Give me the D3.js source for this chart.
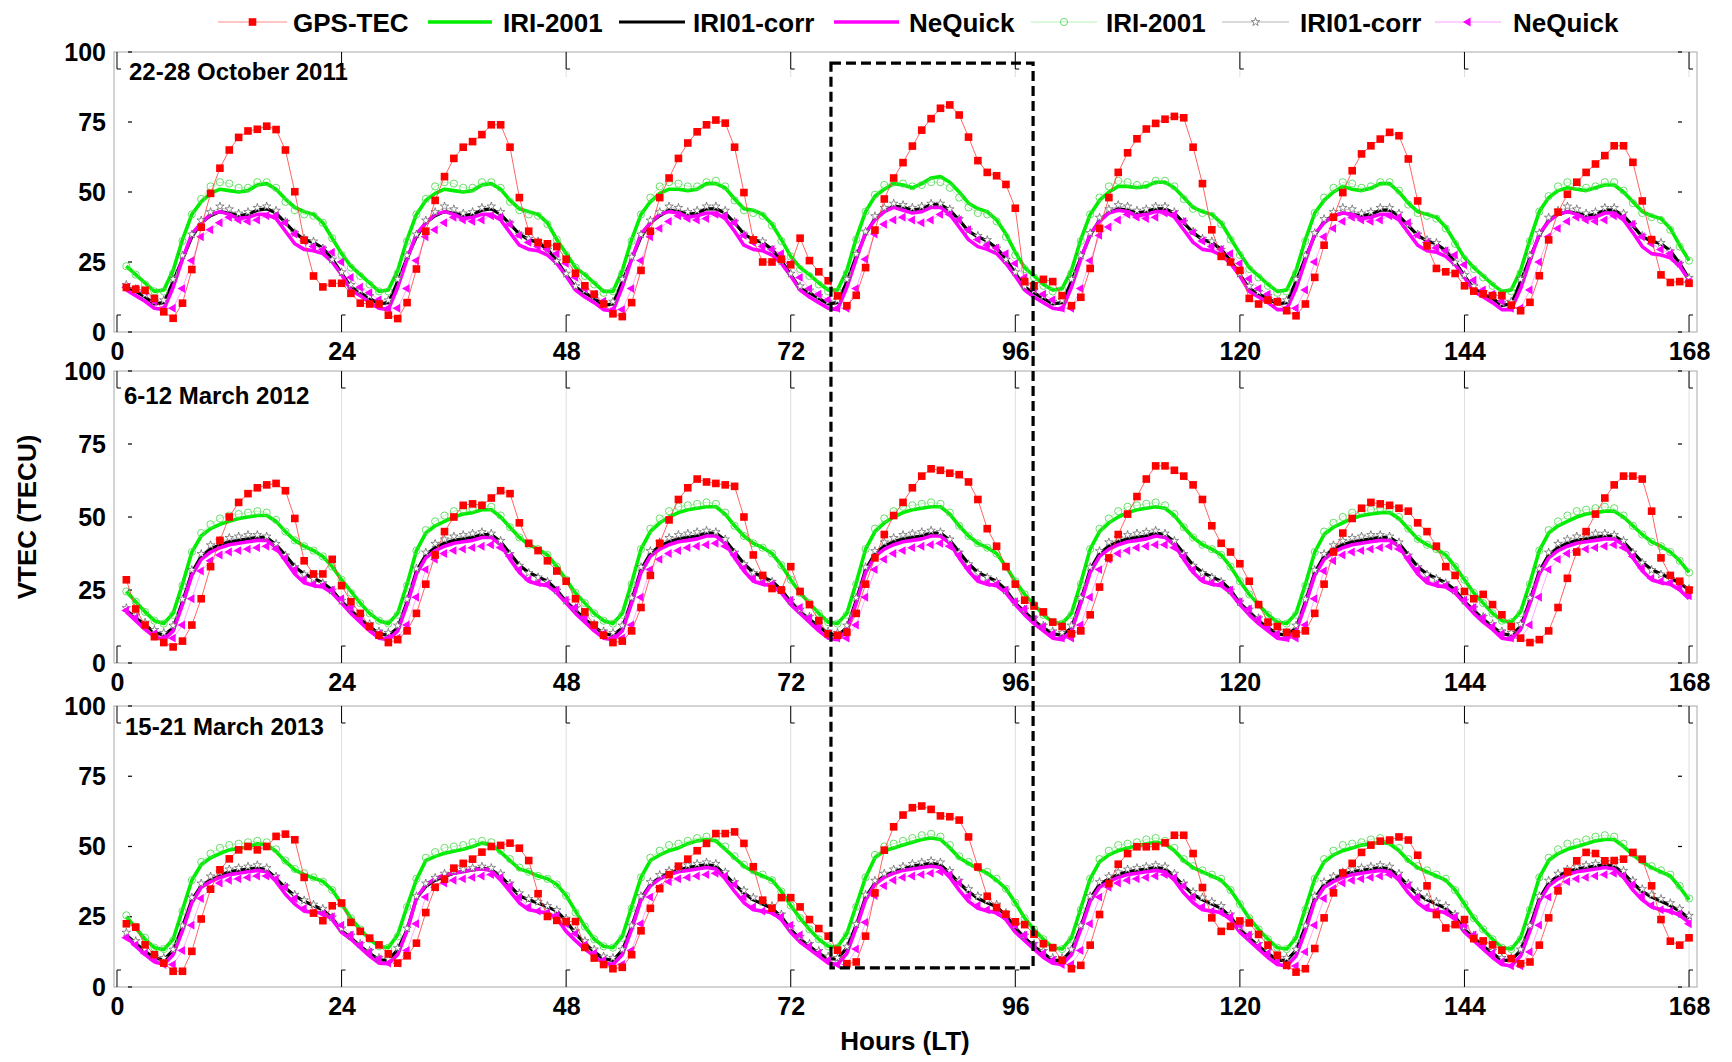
<!DOCTYPE html>
<html>
<head>
<meta charset="utf-8">
<script src="https://cdn.jsdelivr.net/npm/d3@7"></script>
<style>
  body { margin: 0; background: #fff; }
  text { font-family: "Liberation Sans", Arial, sans-serif; font-weight: bold; fill: #000; }
</style>
</head>
<body>
<script>
// hourly samples, 7 days
const hours = d3.range(1, 169);
const xTicks = [0, 24, 48, 72, 96, 120, 144, 168];
const yTicks = [0, 25, 50, 75, 100];
const titles = ["22-28 October 2011", "6-12 March 2012", "15-21 March 2013"];
const legendNames = ["GPS-TEC", "IRI-2001", "IRI01-corr", "NeQuick", "IRI-2001", "IRI01-corr", "NeQuick"];

// ---------- panel 1 : 22-28 October 2011 ----------
const gps1 = [
  [15.9, 15.3, 14.9, 12, 7.2, 4.9, 10.3, 22.3, 37.4, 49.5, 58.5, 65, 69.5, 71.8, 72.4, 73.5, 72.3, 65, 50.1, 32.8, 20, 16.1, 17.4, 17.4],
  [13.8, 10.3, 10, 10, 6, 4.8, 10.5, 22.5, 36, 47, 55.5, 62, 66, 68, 70.5, 74, 74, 66, 48, 36, 32, 31.5, 30.5, 26],
  [21, 16.5, 13.5, 10, 6.5, 5.5, 10.5, 22, 36, 48, 55, 62, 67.5, 71.5, 74, 75.7, 74.6, 66, 49.8, 32.9, 25, 25, 26, 24],
  [33.5, 25.5, 21.5, 18.3, 12.9, 9.4, 13.1, 23, 36.4, 47.5, 55, 60.5, 66.4, 72.1, 76.2, 79.9, 81.1, 77.5, 69.6, 61.2, 57, 55.8, 52.7, 44.2],
  [18, 16.5, 18.8, 18, 13, 9.4, 12.4, 22.7, 37, 48, 57, 64, 69, 72.5, 74.5, 76, 77, 76.5, 66, 53, 36.5, 27, 25, 22],
  [12, 10, 11.4, 10.8, 7.6, 5.8, 10, 19.5, 31, 41, 49.8, 57.6, 63.6, 66.5, 68.9, 71.3, 70.1, 61.8, 46.8, 30.8, 22.7, 21.5, 20.9, 16.5],
  [14.6, 13.6, 13, 13, 9.6, 7.6, 10.6, 20.1, 32.9, 42.8, 49.2, 53.5, 57, 60, 63, 66.5, 66.5, 60.6, 46.8, 33, 20.4, 17.7, 18, 17.4]
].flat();
const iri1 = [
  [23.5, 20.5, 17.5, 14.5, 15, 22, 33, 42, 46.5, 49.5, 51, 50.5, 50, 50.5, 52.5, 53, 51, 47.5, 44.5, 43, 42, 39, 33.5, 28],
  [23.5, 20.5, 17.5, 14.5, 15, 22, 33, 42, 47, 49.5, 51, 50.5, 50, 50.5, 52.5, 53, 51, 47, 44, 43, 42, 39, 33, 28],
  [23, 20.5, 17.5, 14.5, 14.5, 22, 33, 42, 46.5, 49.5, 51, 51, 50.5, 51, 53, 53, 51.5, 47.5, 44, 43.5, 42, 38.5, 33, 27],
  [23, 20.5, 17.5, 15, 15, 22, 33.5, 43, 48.5, 51, 53, 52.5, 51.5, 53, 55, 55.5, 53.5, 50, 46, 44, 43, 40, 35, 28.5],
  [23, 20, 17, 15, 15.5, 22, 33, 42, 47, 50, 52, 52, 51.5, 52, 53.5, 53.5, 51.5, 48, 44.5, 43, 42, 39, 33.5, 28],
  [23, 20, 17, 14.5, 15, 22, 33, 42.5, 47, 50, 52, 51, 50.5, 51.3, 53, 53, 50, 46, 43, 42, 41, 37.5, 32, 26.5],
  [23, 20, 17, 14.5, 15, 22, 33, 43, 48, 50.5, 51.5, 51, 50.5, 51.5, 52.5, 52.5, 50, 46.5, 43, 41.5, 40.5, 37, 31, 25.5]
].flat();
const corr1 = [
  [16, 14.5, 12.5, 10, 10.5, 18, 26, 34, 39, 41.5, 43, 42.5, 41.5, 42, 43.5, 44, 42.5, 39, 35.5, 33, 32, 30, 26, 21],
  [16, 14, 12, 10, 10.5, 18, 26.5, 34, 39, 41.5, 43, 42.5, 41.5, 42, 43.5, 44, 42, 38.5, 35, 33, 32, 29.5, 25.5, 20.5],
  [16, 14, 12, 9.5, 10, 18, 26, 34, 39, 41.5, 43.5, 43, 42, 42.5, 44, 44, 42.5, 39, 35, 33, 32, 29.5, 25.5, 20.5],
  [15.5, 14, 12, 10, 10.5, 18, 27, 35, 40.5, 43, 45, 44.5, 43.5, 44, 45.5, 45.5, 43.5, 40, 36, 34, 32.5, 30, 26, 21],
  [16, 14, 12, 10, 10.5, 18, 26.5, 34.5, 40, 42.5, 44, 43.5, 42.5, 43, 44, 44, 42.5, 39, 35.5, 33, 32, 29.5, 25.5, 20.5],
  [15.5, 13.5, 12, 10, 10.5, 18, 26.5, 34.5, 39.5, 41.5, 42.5, 42, 41.5, 42, 43.5, 43.5, 41.5, 38, 34.5, 32.5, 31.5, 29, 25, 20],
  [15.5, 13.5, 12, 9.5, 10, 18, 26.5, 34.5, 40, 42, 43, 42.5, 41.5, 42, 43.5, 43.5, 41.5, 38, 34, 32.5, 31.5, 29, 24.5, 19]
].flat();
const neq1 = [
  [15, 13, 11, 8.5, 8, 16, 26, 35, 39, 42, 43, 42, 40.5, 41, 42, 42, 40.5, 36, 31.5, 29.5, 29, 28, 25, 20.5],
  [15, 13, 10.5, 8.5, 8, 16, 26, 35, 39, 42, 43, 42, 40.5, 41, 42, 42, 40, 35.5, 31, 29.5, 29, 27.5, 24.5, 20],
  [15, 12.5, 10.5, 8, 7.5, 16, 26, 35, 39, 42, 43, 42.5, 41, 41.5, 42.5, 42.5, 40.5, 36, 31, 29.5, 29, 27.5, 24.5, 20],
  [15, 12.5, 10.5, 8.5, 8, 16, 26, 35.5, 40, 43, 44.5, 43.5, 42.5, 43, 44.5, 44.5, 42, 37.5, 33, 30.5, 29.5, 28, 24.5, 20],
  [15, 12.5, 10.5, 8.5, 8, 16, 26, 35, 39.5, 42.5, 43.5, 43, 41.5, 42, 43, 43, 41, 36.5, 32, 29.5, 29, 27.5, 24.5, 20],
  [14.5, 12.5, 10.5, 8, 8, 15.5, 25.5, 35, 39, 41.5, 42.5, 42, 40.5, 41, 42, 42, 40, 35.5, 31, 29, 28.5, 27, 24, 19.5],
  [14.5, 12.5, 10.5, 8, 8, 15.5, 25.5, 35, 39.5, 42, 43, 42, 40.5, 41, 42.5, 42.5, 40, 35.5, 30.5, 28, 27.5, 26.5, 23.5, 18.5]
].flat();
const iriM1 = [
  [23.5, 20.5, 17, 14.5, 14.5, 21, 32.5, 42, 47.5, 52, 53.5, 53, 51.5, 51.5, 53.5, 53.5, 51.5, 46.5, 43.5, 42, 41.5, 39, 33.5, 27.5],
  [23, 20, 17, 14.5, 14.5, 21, 32.5, 42, 47.5, 52, 53.5, 53, 51.5, 51.5, 53.5, 53.5, 51.5, 46.5, 43.5, 42, 41.5, 38.5, 33, 27.5],
  [23, 20, 17, 14, 14.5, 21, 32.5, 42, 48, 52, 53.5, 53, 52, 52, 53.5, 54, 52, 47, 43.5, 42.5, 41.5, 38, 32.5, 27],
  [22.5, 20, 17, 14.5, 14.5, 21, 33, 43, 49, 52.5, 53.5, 53, 52, 52.5, 53.5, 53.5, 51.5, 48, 44.5, 42.5, 42, 39.5, 34, 27.5],
  [22.5, 19.5, 16.5, 14.5, 15, 21, 32.5, 42, 48, 52, 54, 53.5, 52.5, 52.5, 54, 54, 52, 47.5, 44, 42.5, 41.5, 38.5, 33, 27.5],
  [22.5, 19.5, 16.5, 14, 14.5, 21, 32.5, 42.5, 48, 51.5, 53.5, 53, 51.5, 52, 53.5, 53.5, 50.5, 45.5, 42.5, 41.5, 40.5, 37, 31.5, 26],
  [22.5, 19.5, 16.5, 14, 14.5, 21, 32.5, 43, 48.5, 52, 53.5, 52.5, 51.5, 52, 53.5, 53.5, 50.5, 46, 42.5, 41, 40, 36.5, 30.5, 25.5]
].flat();
const corrM1 = [
  [16.5, 15, 13, 10.5, 11, 18.5, 27, 34.5, 39.5, 42.5, 44.5, 43.5, 42, 42.5, 44, 44.5, 43, 39, 35, 33, 32, 29.5, 25.5, 21],
  [16.5, 14.5, 12.5, 10.5, 11, 18.5, 27, 34.5, 39.5, 42.5, 44.5, 43.5, 42, 42.5, 44, 44.5, 42.5, 38.5, 34.5, 33, 32, 29, 25, 20.5],
  [16, 14.5, 12.5, 10, 10.5, 18.5, 26.5, 34.5, 39.5, 42.5, 44.5, 44, 42.5, 43, 44.5, 44.5, 43, 39, 34.5, 33, 32, 29, 25, 20.5],
  [16, 14.5, 12.5, 10.5, 11, 18.5, 27.5, 35.5, 41, 44, 45.5, 45, 44, 44.5, 45.5, 45.5, 43.5, 40, 36, 34, 32.5, 29.5, 25.5, 21],
  [16, 14.5, 12.5, 10.5, 11, 18.5, 27, 35, 40.5, 43.5, 45, 44.5, 43, 43.5, 44.5, 44.5, 42.5, 39, 35.5, 33, 32, 29, 25, 20.5],
  [16, 14, 12.5, 10.5, 11, 18.5, 27, 35, 40, 42.5, 44, 43.5, 42, 42.5, 44, 44, 42, 38, 34.5, 32.5, 31.5, 28.5, 24.5, 20],
  [16, 14, 12.5, 10, 10.5, 18.5, 27, 35, 40.5, 43, 44.5, 43.5, 42, 42.5, 44, 44, 42, 38, 34, 32.5, 31.5, 28.5, 24, 19]
].flat();
const neqM1 = [
  [16, 15.5, 14.5, 11, 8.5, 8.5, 15.5, 25.5, 34, 36.5, 39, 41, 40, 39.5, 40, 41.5, 41.5, 39, 35, 32.5, 30.5, 29.5, 28.5, 25],
  [19.5, 16, 14, 11.5, 8.5, 8.5, 15.5, 25.5, 34, 36.5, 39, 41, 40, 39.5, 40, 41.5, 41, 38.5, 34.5, 32, 30.5, 29.5, 28, 24.5],
  [19.5, 15.5, 13.5, 11, 8, 8, 15.5, 25.5, 34, 37, 39.5, 41.5, 40.5, 40, 40.5, 42, 41.5, 39, 34.5, 32, 30.5, 29.5, 28, 24.5],
  [19.5, 15.5, 13.5, 11.5, 8.5, 8.5, 15.5, 26, 35, 38.5, 40, 41, 40, 39, 40, 42, 42, 40, 36.5, 33, 31, 30, 28, 24.5],
  [19.5, 15.5, 13.5, 11.5, 8.5, 8.5, 15.5, 25.5, 34.5, 37.5, 40, 42, 41, 40.5, 41, 42.5, 42, 39.5, 35.5, 32.5, 30.5, 29.5, 28, 24.5],
  [19, 15.5, 13.5, 11, 8.5, 8.5, 15, 25, 34, 37, 39.5, 41, 40, 39.5, 40, 41.5, 41, 39, 34.5, 32, 30, 29, 27.5, 24],
  [18.5, 15, 13.5, 11, 8.5, 8.5, 15, 25, 34, 37, 39.5, 41, 40, 39.5, 40, 41.5, 41, 38.5, 34, 31.5, 29.5, 28, 24, 18]
].flat();

// ---------- panel 2 : 6-12 March 2012 ----------
const gps2 = [
  [28.5, 18.5, 13, 9, 7, 5.5, 7.5, 13, 22, 33, 42, 50, 55, 58, 60, 61, 61.5, 59, 49.5, 35, 30.5, 30.5, 35.5, 26.5],
  [21, 17, 12.5, 9.5, 7, 8, 11, 17, 27, 37, 45, 50, 54, 54.5, 54, 56.5, 59, 58, 48, 41, 38.5, 35, 31.5, 28],
  [22, 17.5, 13, 9.5, 7, 7.5, 11, 19, 30, 41, 49, 56, 60, 63, 62, 61.5, 61, 60.5, 50, 37, 30, 25.5, 25, 33],
  [24.5, 20, 14.5, 10, 9.5, 10.5, 17, 27, 36, 44, 50.5, 55, 60, 64, 66.5, 66, 65, 64.5, 62, 56, 46, 40, 33, 27],
  [21.5, 19.5, 17.5, 14, 12.5, 10, 11, 16.5, 26, 36, 44, 51, 57, 63, 67.5, 67.5, 66, 64, 61, 56, 47, 41, 38, 34],
  [28, 20, 14, 12.5, 10.5, 10, 11, 17, 27, 38, 44.5, 49.5, 53, 55, 54.5, 54, 53, 52, 48, 45, 40, 33, 30, 24.5],
  [22, 23.5, 20, 16.5, 12.5, 8.5, 7, 8, 11, 19, 29, 38, 45, 51, 56.5, 61, 64, 64, 63, 52, 36, 30, 28, 25]
].flat();
const iri2 = [
  [24.5, 21, 17.5, 14.5, 13.5, 17, 27, 38, 43.5, 46, 47.5, 48.5, 49.5, 50, 50.5, 50.5, 48.5, 45, 42, 40, 38.5, 36.5, 33, 28.5],
  [24.5, 20.5, 17, 14.5, 13.5, 17, 27, 38.5, 44.5, 47, 48.5, 50, 51, 51.5, 52.5, 52.5, 50, 46.5, 43, 40.5, 39, 37, 33, 28.5],
  [24, 20.5, 17, 14.5, 13.5, 17, 27.5, 39, 45, 48, 50, 51.5, 52.5, 53, 53.5, 53.5, 51, 47, 43.5, 41, 39.5, 37.5, 33.5, 28.5],
  [24, 20.5, 17, 14, 13.5, 17, 27.5, 39, 45, 48, 50, 51.5, 52.5, 53, 53.5, 53.5, 51, 47, 43.5, 41, 39.5, 37.5, 33, 28],
  [23.5, 20, 16.5, 14, 13.5, 17, 27.5, 39, 45, 48, 50, 51.5, 52.5, 53, 53.5, 53, 50.5, 46.5, 43, 40.5, 39, 37, 33, 28],
  [23.5, 20, 16.5, 14, 13.5, 17, 27, 38, 44, 46.5, 48, 49.5, 50.5, 51, 51.5, 51.5, 49.5, 46, 42.5, 40.5, 39, 37, 33, 28.5],
  [24, 20.5, 17, 14.5, 14, 17.5, 27.5, 38.5, 44.5, 47, 48.5, 50, 51, 51.5, 52, 52, 50, 47, 44, 41.5, 40, 38, 35, 31]
].flat();
const corr2 = [
  [18, 15.5, 13, 10.5, 9.5, 12, 21, 31, 36.5, 39, 40.5, 41.5, 42, 42.5, 43, 43, 40.5, 37, 33, 30.5, 29, 27.5, 25, 21],
  [18, 15, 12.5, 10, 9.5, 12, 21, 31.5, 37, 39.5, 41, 42, 42.5, 43, 44, 44, 41.5, 37.5, 33.5, 31, 29.5, 28, 25, 21],
  [18, 15, 12.5, 10, 9.5, 12, 21.5, 32, 37.5, 40, 41.5, 42.5, 43, 43.5, 44.5, 44.5, 42, 38, 34, 31, 29.5, 28, 25, 21],
  [17.5, 15, 12.5, 10, 9.5, 12, 21.5, 32, 37.5, 40, 41.5, 42.5, 43, 43.5, 44.5, 44.5, 42, 38, 34, 31, 29.5, 28, 25, 20.5],
  [17.5, 14.5, 12, 10, 9.5, 12, 21.5, 32, 37.5, 40, 41.5, 42.5, 43, 43.5, 44.5, 44, 41.5, 37.5, 33.5, 31, 29.5, 28, 25, 20.5],
  [17.5, 14.5, 12, 10, 9.5, 12, 21, 31, 36.5, 39, 40.5, 41.5, 42, 42.5, 43, 43, 41, 37, 33, 30.5, 29, 27.5, 25, 21],
  [18, 15, 12.5, 10, 9.5, 12.5, 21.5, 31.5, 37, 39.5, 41, 42, 42.5, 43, 43.5, 43.5, 41.5, 38, 34.5, 32, 30.5, 29, 27.5, 25]
].flat();
const neq2 = [
  [17.5, 14.5, 11.5, 9, 8, 11, 20, 30, 35.5, 38, 39.5, 40.5, 41, 41.5, 42, 42, 39.5, 35, 30.5, 27.5, 26.5, 26, 24, 20.5],
  [17, 14, 11, 8.5, 8, 11, 20, 30.5, 36, 38.5, 40, 41, 41.5, 42, 43, 43, 40.5, 35.5, 31, 28, 27, 26.5, 24, 20.5],
  [17, 14, 11, 8.5, 8, 11, 20.5, 31, 36.5, 39, 40.5, 41.5, 42, 42.5, 43.5, 43.5, 41, 36, 31.5, 28, 27, 26.5, 24, 20],
  [17, 14, 11, 8.5, 8, 11, 20.5, 31, 36.5, 39, 40.5, 41.5, 42, 42.5, 43.5, 43.5, 41, 36, 31.5, 28, 27, 26.5, 24, 20],
  [16.5, 13.5, 11, 8.5, 8, 11, 20.5, 31, 36.5, 39, 40.5, 41.5, 42, 42.5, 43.5, 43, 40.5, 35.5, 31, 28, 27, 26.5, 24, 20],
  [16.5, 13.5, 11, 8.5, 8, 11, 20, 30, 35.5, 38, 39.5, 40.5, 41, 41.5, 42, 42, 40, 35, 30.5, 27.5, 26.5, 26, 24, 20.5],
  [17, 14, 11.5, 8.5, 8, 11.5, 20.5, 30.5, 36, 38.5, 40, 41, 41.5, 42, 42.5, 42.5, 40.5, 36, 31.5, 28.5, 27.5, 27, 25, 22]
].flat();
const iriM2 = [
  [24.5, 21, 17.5, 14.5, 13.5, 16.5, 26.5, 38, 44.5, 47.5, 49.5, 50.5, 51, 51.5, 52, 51.5, 49, 45, 42, 40, 38.5, 36.5, 33, 28.5],
  [24, 20.5, 17, 14.5, 13.5, 16.5, 26.5, 38.5, 45.5, 48.5, 50.5, 52, 52.5, 53, 54, 53.5, 50.5, 46.5, 43, 40.5, 39, 37, 33, 28.5],
  [24, 20.5, 17, 14.5, 13.5, 16.5, 27, 39, 46, 49.5, 52, 53.5, 54, 54.5, 55, 54.5, 51.5, 47, 43.5, 41, 39.5, 37.5, 33.5, 28.5],
  [24, 20.5, 17, 14, 13.5, 16.5, 27, 39, 46, 49.5, 52, 53.5, 54, 54.5, 55, 54.5, 51.5, 47, 43.5, 41, 39.5, 37.5, 33, 28],
  [23.5, 20, 16.5, 14, 13.5, 16.5, 27, 39, 46, 49.5, 52, 53.5, 54, 54.5, 55, 54, 51, 46.5, 43, 40.5, 39, 37, 33, 28],
  [23.5, 20, 16.5, 14, 13.5, 16.5, 26.5, 38, 45, 48, 50, 51.5, 52, 52.5, 53, 52.5, 50, 46, 42.5, 40.5, 39, 37, 33, 28.5],
  [24, 20.5, 17, 14.5, 14, 17, 27, 38.5, 45.5, 48.5, 50.5, 52, 52.5, 53, 53.5, 53, 50.5, 47, 44, 41.5, 40, 38, 35, 31]
].flat();
const corrM2 = [
  [18.5, 16, 13.5, 11, 10, 12.5, 21.5, 31.5, 37, 40, 41.5, 42.5, 43, 43.5, 43.5, 43, 40.5, 36.5, 32.5, 30, 28.5, 27, 24.5, 21],
  [18.5, 15.5, 13, 10.5, 10, 12.5, 21.5, 32, 37.5, 40.5, 42, 43, 43.5, 44, 44.5, 44, 41.5, 37, 33, 30.5, 29, 27.5, 24.5, 21],
  [18.5, 15.5, 13, 10.5, 10, 12.5, 22, 32.5, 38, 41, 42.5, 43.5, 44, 44.5, 45, 44.5, 42, 37.5, 33.5, 30.5, 29, 27.5, 24.5, 21],
  [18, 15.5, 13, 10.5, 10, 12.5, 22, 32.5, 38, 41, 42.5, 43.5, 44, 44.5, 45, 44.5, 42, 37.5, 33.5, 30.5, 29, 27.5, 24.5, 20.5],
  [18, 15, 12.5, 10.5, 10, 12.5, 22, 32.5, 38, 41, 42.5, 43.5, 44, 44.5, 45, 44, 41.5, 37, 33, 30.5, 29, 27.5, 24.5, 20.5],
  [18, 15, 12.5, 10.5, 10, 12.5, 21.5, 31.5, 37, 40, 41.5, 42.5, 43, 43.5, 43.5, 43, 41, 36.5, 32.5, 30, 28.5, 27, 24.5, 21],
  [18.5, 15.5, 13, 10.5, 10, 13, 22, 32, 37.5, 40.5, 42, 43, 43.5, 44, 44, 43.5, 41.5, 37.5, 34, 31.5, 30, 28.5, 27, 25]
].flat();
const neqM2 = [
  [18, 15.5, 12.5, 10, 8.5, 8.5, 13, 22, 31.5, 35, 37, 38, 38.5, 39, 39.5, 40, 39, 36, 32, 28.5, 27, 26.5, 25, 22],
  [19, 15.5, 12.5, 10, 8.5, 8.5, 13, 22.5, 32, 35.5, 37.5, 38.5, 39, 39.5, 40, 40.5, 39.5, 36.5, 32, 28.5, 27.5, 27, 25, 21.5],
  [19, 15.5, 12.5, 10, 8.5, 8.5, 13, 22.5, 32, 35.5, 37.5, 38.5, 39.5, 40, 40.5, 41, 40, 37, 32.5, 29, 27.5, 27, 25, 21.5],
  [19, 15.5, 12.5, 10, 8.5, 8.5, 13, 22.5, 32, 35.5, 37.5, 38.5, 39.5, 40, 40.5, 41, 40, 37, 32.5, 29, 27.5, 27, 25, 21],
  [18.5, 15, 12.5, 10, 8.5, 8.5, 13, 22.5, 32, 35.5, 37.5, 38.5, 39.5, 40, 40.5, 40.5, 39.5, 36.5, 32, 28.5, 27.5, 27, 25, 21],
  [18.5, 15, 12.5, 10, 8.5, 8.5, 13, 22, 31.5, 35, 37, 38, 38.5, 39, 39.5, 40, 39, 36, 32, 28.5, 27, 26.5, 25, 21.5],
  [19, 15.5, 12.5, 10, 8.5, 8.5, 13, 22.5, 32, 35.5, 37.5, 38.5, 39, 39.5, 40, 40.5, 39.5, 36.5, 32.5, 29, 28, 27.5, 26, 23]
].flat();

// ---------- panel 3 : 15-21 March 2013 ----------
const gps3 = [
  [22.5, 21.3, 15, 11.5, 8.5, 5.6, 5.6, 12.7, 24.2, 34.8, 41.7, 45.6, 48.8, 50, 48.8, 50, 53.6, 54.4, 52.4, 39, 26.3, 23.6, 28.9, 29.9],
  [23, 19.8, 17.4, 15, 11.8, 8.5, 11.1, 15.6, 26.5, 35.5, 38.4, 42.3, 44, 45.5, 48, 50, 50.4, 51.2, 49.4, 45, 33.2, 25.1, 23.7, 23.3],
  [23.3, 14.1, 10.3, 8, 6.5, 7, 11.5, 20, 28, 35, 40, 43, 45.5, 48.5, 51.1, 54.6, 54.6, 55.2, 51.1, 42.8, 30.9, 28, 31.8, 31.8],
  [28.5, 24, 20.8, 18.1, 13.1, 8.3, 8.9, 18.1, 33.5, 48.7, 57, 61.2, 63.8, 64.4, 63.2, 60.9, 60.6, 59.4, 53.4, 42.7, 32.3, 28.3, 25.9, 23.2],
  [22.2, 18.8, 15.4, 14, 9.5, 6.5, 7.7, 14.9, 25.8, 36.8, 43.7, 47.5, 49.9, 49.9, 50, 51.3, 54, 54, 47.5, 35.4, 24.6, 19.8, 21.6, 23.5],
  [22.8, 18.7, 14.9, 11.3, 7.7, 5.3, 6.5, 13.7, 24.6, 33.5, 40.6, 44, 47.9, 50.5, 51.9, 52.3, 53.4, 52.3, 46.9, 36, 25.8, 21, 22.2, 24],
  [17.2, 16.4, 15, 13.1, 10.1, 8.3, 8.9, 14.9, 24.6, 34.2, 41, 44.9, 47.9, 47.5, 44.9, 45, 45.5, 47.9, 45.5, 36, 24, 16.3, 14.9, 17.5]
].flat();
const iri3 = [
  [25, 21, 17, 14, 13.3, 17, 27.5, 38, 43.5, 46, 47.5, 48.8, 49.3, 49.8, 51, 50.6, 48.2, 44.7, 41.7, 40, 38.8, 37.6, 34.5, 29.5],
  [24.5, 20.5, 17, 14.5, 14, 18.6, 28.7, 38.2, 45, 46.5, 47.6, 48.3, 49, 50, 51.2, 50.6, 48, 45, 42, 41, 39.5, 38.5, 36.5, 32.5],
  [27, 21.5, 17, 14.5, 14, 18, 28.5, 39, 45, 47, 48.5, 49.5, 51, 52, 52.5, 52, 49, 46, 43, 41, 39.5, 38, 34, 29],
  [24.5, 20.5, 17, 14.5, 14.2, 19, 29, 39, 46, 48.5, 49.5, 50.5, 51.5, 52.5, 53, 52.5, 49.5, 46, 44, 42, 40.5, 38, 35, 30],
  [24.5, 20.5, 17, 14, 13.5, 17.5, 28, 38.5, 44.5, 47, 48.5, 49.5, 50.3, 51, 51.5, 51, 48.5, 45, 42.5, 41, 39.5, 38, 34.5, 29.5],
  [24.5, 20.5, 17, 14, 13.5, 17.5, 28, 38.5, 44.5, 47, 48.5, 49.5, 50.5, 51, 51.5, 51, 48.5, 45, 42.5, 41, 39.5, 38, 34.5, 29.5],
  [24.5, 20.5, 17, 14, 13.5, 17.5, 28, 39, 45, 47.5, 49, 50, 51, 52, 52.5, 52.5, 50, 47, 44.5, 42.5, 41, 39.5, 35.5, 31]
].flat();
const corr3 = [
  [18.5, 15.5, 12.7, 10.3, 9.7, 13, 21.5, 31, 36, 38, 39.5, 41, 41.5, 42, 42.3, 41.7, 38.7, 35.2, 32.5, 30.5, 29, 27.5, 24.5, 20],
  [17.5, 14.5, 12, 9.7, 9.5, 13.3, 20.4, 31.6, 35.8, 38, 39.3, 40.5, 41.1, 41.7, 42.3, 41.7, 39.5, 36, 32.5, 31, 29.9, 28.5, 27, 23.5],
  [19, 15.5, 12.5, 10, 9.5, 13, 21.5, 31.5, 36.5, 39, 40.5, 41.5, 42.5, 43, 43.5, 43, 40, 36.5, 33.5, 31, 29.5, 28, 25, 20.5],
  [17, 14.5, 12, 10, 10, 14, 22, 32, 37, 39.5, 41, 42, 43, 43.5, 44, 43.5, 40.5, 37, 34, 31.5, 30, 28.5, 25.5, 21],
  [17.5, 14.5, 12, 9.5, 9.5, 13, 21.5, 31.5, 36.5, 38.5, 40, 41, 41.5, 42, 42.5, 42, 39.5, 36, 33, 31, 29.5, 28, 25, 20.5],
  [17.5, 14.5, 12, 9.5, 9.5, 13, 21.5, 31.5, 36.5, 38.5, 40, 41, 41.5, 42, 42.5, 42, 39.5, 36, 33, 31, 29.5, 28, 25, 20.5],
  [17.5, 14.5, 12, 9.5, 9.5, 13, 21.5, 31.5, 37, 39.5, 41, 42, 42.5, 43, 43.5, 43, 40.5, 37, 34, 32, 30.5, 29, 27, 24.5]
].flat();
const neq3 = [
  [18, 14.5, 11.5, 9, 8, 11.5, 20, 30, 35.5, 37.5, 39, 40, 40.5, 41, 41.5, 41, 37.5, 33, 29.5, 27, 26.5, 26.5, 24, 19.5],
  [17, 14, 11, 8.5, 8.3, 11.5, 20, 31.6, 36.4, 38.5, 40, 40.5, 41, 41.7, 42, 41.5, 38, 34, 29.9, 27.5, 26.9, 26.3, 24.5, 19.8],
  [16.5, 13.5, 11, 8.5, 8, 11.5, 20.5, 31, 36, 38.5, 40, 41, 41.5, 42, 42.5, 42, 38.5, 34, 30, 27.5, 27, 26.5, 24, 19.5],
  [16, 13.5, 11, 8.5, 8, 12, 21, 31, 36.5, 39, 40.5, 41.5, 42, 42.5, 43, 42.5, 39, 34.5, 30.5, 28, 27, 26.5, 24, 19.5],
  [16.5, 13.5, 10.5, 8.5, 8, 11.5, 20.5, 30.5, 35.5, 37.5, 39, 40, 40.5, 41, 41.5, 41, 38, 33.5, 30, 27.5, 27, 26.5, 24, 19.5],
  [16.5, 13.5, 10.5, 8, 7.5, 11, 20, 30.5, 35.5, 37.5, 39, 40, 40.5, 41, 41.5, 41, 38, 33.5, 30, 27.5, 27, 26.5, 24, 19.5],
  [16.5, 13.5, 10.5, 8, 7.5, 11, 20, 30.5, 36, 38.5, 40, 41, 41.5, 42, 42.5, 42, 39, 34.5, 31, 28.5, 27.5, 27, 25.5, 23]
].flat();
const iriM3 = [
  [25.5, 21.5, 17.5, 14, 13.5, 16.5, 27, 38, 44.5, 47.5, 49.5, 50.5, 51, 51.5, 52, 51.5, 49, 45, 42, 40.5, 39, 37.5, 34.5, 29.5],
  [24.5, 20.5, 17, 14.5, 14, 18, 28.5, 38.5, 46, 48, 49.5, 50, 50.5, 51.5, 52, 51.5, 48.5, 45.5, 42.5, 41, 39.5, 38.5, 36.5, 32.5],
  [26.5, 21.5, 17, 14.5, 14, 17.5, 28, 39, 46, 48.5, 50.5, 51, 52, 53, 53.5, 53, 50, 46.5, 43.5, 41.5, 40, 38, 34, 29],
  [24.5, 20.5, 17, 14.5, 14, 18.5, 28.5, 39, 47, 50, 51, 52, 53, 54, 54.5, 53.5, 50.5, 46.5, 44.5, 42.5, 41, 38.5, 35, 30],
  [24.5, 20.5, 17, 14, 13.5, 17, 27.5, 38.5, 45.5, 48.5, 50.5, 51, 51.5, 52.5, 53, 52, 49.5, 45.5, 43, 41.5, 40, 38.5, 34.5, 29.5],
  [24.5, 20.5, 17, 14, 13.5, 17, 27.5, 38.5, 45.5, 48.5, 50.5, 51, 51.5, 52.5, 53, 52, 49.5, 45.5, 43, 41.5, 40, 38.5, 34.5, 29.5],
  [24.5, 20.5, 17, 14, 13.5, 17, 27.5, 39, 46, 49, 51, 51.5, 52.5, 53.5, 54, 53.5, 51, 47.5, 45, 43, 41.5, 40, 36, 31.5]
].flat();
const corrM3 = [
  [19, 16, 13, 10.5, 10, 13, 21.5, 31.5, 36.5, 39, 40.5, 41.5, 42, 42.5, 43, 42, 39, 35.5, 32.5, 30.5, 29, 27.5, 24.5, 20.5],
  [18, 15, 12.5, 10, 9.5, 13.5, 20.5, 32, 36.5, 38.5, 40, 41, 41.5, 42, 42.5, 42, 40, 36.5, 33, 31, 30, 28.5, 27, 24],
  [19.5, 16, 13, 10.5, 10, 13, 21.5, 32, 37, 39.5, 41, 42, 43, 43.5, 44, 43.5, 40.5, 37, 34, 31.5, 30, 28.5, 25.5, 21],
  [17.5, 15, 12.5, 10.5, 10, 14, 22, 32.5, 37.5, 40, 41.5, 42.5, 43.5, 44, 44.5, 44, 41, 37.5, 34.5, 32, 30.5, 29, 26, 21.5],
  [18, 15, 12.5, 10, 10, 13, 21.5, 32, 37, 39, 40.5, 41.5, 42, 42.5, 43, 42.5, 40, 36.5, 33.5, 31.5, 30, 28.5, 25.5, 21],
  [18, 15, 12.5, 10, 10, 13, 21.5, 32, 37, 39, 40.5, 41.5, 42, 42.5, 43, 42.5, 40, 36.5, 33.5, 31.5, 30, 28.5, 25.5, 21],
  [18, 15, 12.5, 10, 10, 13, 21.5, 32, 37.5, 40, 41.5, 42.5, 43, 43.5, 44, 43.5, 41, 37.5, 34.5, 32.5, 31, 29.5, 27.5, 25]
].flat();
const neqM3 = [
  [17.5, 15, 12, 9.5, 8, 8, 13, 22, 31.5, 35, 37, 38, 38.5, 39, 39.5, 39.5, 38.5, 35.5, 31.5, 28, 26.5, 26, 25, 22],
  [18.5, 15, 12.5, 10, 8.5, 8.5, 13, 22.5, 32, 35.5, 37, 38, 38.5, 39, 39.5, 40, 39, 36, 32, 28.5, 27, 26.5, 25.5, 22.5],
  [19, 15, 12, 9.5, 8, 8, 13, 22.5, 32, 35.5, 37.5, 38.5, 39, 39.5, 40, 40.5, 39.5, 36.5, 32, 28.5, 27, 26.5, 25, 22],
  [18.5, 14.5, 12, 9.5, 8, 8, 13.5, 23, 32.5, 36, 38, 39, 39.5, 40, 40.5, 41, 40, 37, 32.5, 29, 27.5, 26.5, 25, 22],
  [18.5, 14.5, 12, 9.5, 8, 8, 13, 22.5, 32, 35.5, 37, 38, 38.5, 39, 39.5, 40, 39, 36, 32, 28.5, 27, 26.5, 25, 22],
  [18.5, 14.5, 12, 9, 7.5, 7.5, 12.5, 22, 31.5, 35, 37, 38, 38.5, 39, 39.5, 40, 39, 36, 32, 28.5, 27, 26.5, 25, 22],
  [18.5, 14.5, 12, 9, 7.5, 7.5, 12.5, 22, 32, 35.5, 37.5, 38.5, 39, 39.5, 40, 40.5, 39.5, 36.5, 32.5, 29, 27.5, 27, 26, 22.5]
].flat();

// highlighted interval (hours) and its vertical extent (TECU in top / bottom panel)
const boxHours = [76.3, 97.9];
const boxTecu = [96, 6.8];

const panels = [
  { title: titles[0], gps: gps1, iri: iri1, corr: corr1, neq: neq1, iriM: iriM1, corrM: corrM1, neqM: neqM1 },
  { title: titles[1], gps: gps2, iri: iri2, corr: corr2, neq: neq2, iriM: iriM2, corrM: corrM2, neqM: neqM2 },
  { title: titles[2], gps: gps3, iri: iri3, corr: corr3, neq: neq3, iriM: iriM3, corrM: corrM3, neqM: neqM3 }
];

// ---------- layout ----------
const W = 1732, H = 1062;
const left = 114, right = 1697;
const frames = [[52, 332], [371, 663], [706, 987]];
const titleDy = [28, 33, 29];
const titleX = [129, 124, 125];

const svg = d3.select("body").append("svg").attr("width", W).attr("height", H);
const x = d3.scaleLinear().domain([-0.32, 168.85]).range([left, right]);

const C = {
  gpsLine: "#ff3b3b", gps: "#ff0000",
  iri: "#00ee00", corr: "#000000", neq: "#ff00ff",
  iriM: "#5ad85a", iriMLine: "#b5f2b5",
  corrM: "#444444", corrMLine: "#b4b4b4",
  neqM: "#ff00ff", neqMLine: "#ffa0ff"
};
const square = d3.symbol(d3.symbolSquare, 58);
const star = d3.symbol(d3.symbolStar, 22);
const tri = d3.symbol(d3.symbolTriangle, 34);

const ys = [];

panels.forEach((p, k) => {
  const [top, bottom] = frames[k];
  const y = d3.scaleLinear().domain([0, 100]).range([bottom, top]);
  ys.push(y);
  const g = svg.append("g");
  const line = d3.line().x((d, i) => x(hours[i])).y(d => y(d));

  // faint vertical lines at day boundaries
  g.selectAll("line.grid").data(xTicks.slice(1)).join("line")
    .attr("x1", d => x(d)).attr("x2", d => x(d))
    .attr("y1", k === 0 ? top : top).attr("y2", k === 0 ? top + 25 : bottom)
    .attr("stroke", "#dedede").attr("stroke-width", 1);

  g.append("rect").attr("x", left).attr("y", top)
    .attr("width", right - left).attr("height", bottom - top)
    .attr("fill", "none").attr("stroke", "#a8a8a8").attr("stroke-width", 1);

  // small black tick marks (inner)
  g.selectAll("line.yt").data(yTicks).join("line")
    .attr("x1", left + 14).attr("x2", left + 18)
    .attr("y1", d => y(d)).attr("y2", d => y(d))
    .attr("stroke", "#000").attr("stroke-width", 1.2);
  g.selectAll("line.yt2").data(yTicks).join("line")
    .attr("x1", right - 19).attr("x2", right - 15)
    .attr("y1", d => y(d)).attr("y2", d => y(d))
    .attr("stroke", "#000").attr("stroke-width", 1.2);
  g.selectAll("path.xt").data(xTicks).join("path")
    .attr("d", d => `M${x(d) + 4},${bottom - 17}H${x(d)}V${bottom}M${x(d) + 4},${top + 17}H${x(d)}V${top}`)
    .attr("fill", "none").attr("stroke", "#000").attr("stroke-width", 1);

  // axes labels
  const ya = g.append("g").attr("transform", `translate(${left},0)`)
    .call(d3.axisLeft(y).tickValues(yTicks).tickSize(0).tickPadding(8));
  ya.select(".domain").remove();
  ya.selectAll("text").style("font", "bold 25px 'Liberation Sans', Arial, sans-serif");

  const xa = g.append("g").attr("transform", `translate(0,${bottom})`)
    .call(d3.axisBottom(x).tickValues(xTicks).tickSize(0).tickPadding(10));
  xa.select(".domain").remove();
  xa.selectAll("text").style("font", "bold 25px 'Liberation Sans', Arial, sans-serif");

  g.append("text").attr("x", titleX[k]).attr("y", top + titleDy[k])
    .attr("font-size", 24).text(p.title);

  // marker series (thin connecting lines)
  g.append("path").datum(p.iriM).attr("d", line).attr("fill", "none")
    .attr("stroke", C.iriMLine).attr("stroke-width", 0.9);
  g.append("path").datum(p.corrM).attr("d", line).attr("fill", "none")
    .attr("stroke", C.corrMLine).attr("stroke-width", 0.8);
  g.append("path").datum(p.neqM).attr("d", line).attr("fill", "none")
    .attr("stroke", C.neqMLine).attr("stroke-width", 0.9);

  // thick model curves
  g.append("path").datum(p.iri).attr("d", line).attr("fill", "none")
    .attr("stroke", C.iri).attr("stroke-width", 3.6).attr("stroke-linejoin", "round");
  g.append("path").datum(p.corr).attr("d", line).attr("fill", "none")
    .attr("stroke", C.corr).attr("stroke-width", 3.2).attr("stroke-linejoin", "round");
  g.append("path").datum(p.neq).attr("d", line).attr("fill", "none")
    .attr("stroke", C.neq).attr("stroke-width", 3.6).attr("stroke-linejoin", "round");

  // markers
  g.selectAll("circle.iriM").data(p.iriM).join("circle")
    .attr("cx", (d, i) => x(hours[i])).attr("cy", d => y(d)).attr("r", 3.6)
    .attr("fill", "none").attr("stroke", C.iriM).attr("stroke-width", 0.9);
  g.selectAll("path.corrM").data(p.corrM).join("path")
    .attr("d", star).attr("transform", (d, i) => `translate(${x(hours[i])},${y(d) - 1})`)
    .attr("fill", "#fff").attr("stroke", C.corrM).attr("stroke-width", 0.6);
  g.selectAll("path.neqM").data(p.neqM).join("path")
    .attr("d", tri).attr("transform", (d, i) => `translate(${x(hours[i])},${y(d)}) rotate(-90)`)
    .attr("fill", C.neqM);

  // GPS-TEC
  g.append("path").datum(p.gps).attr("d", line).attr("fill", "none")
    .attr("stroke", C.gpsLine).attr("stroke-width", 0.8);
  g.selectAll("path.gps").data(p.gps).join("path")
    .attr("d", square).attr("transform", (d, i) => `translate(${x(hours[i])},${y(d)})`)
    .attr("fill", C.gps);
});

// dashed highlight box
svg.append("rect")
  .attr("x", x(boxHours[0])).attr("y", ys[0](boxTecu[0]))
  .attr("width", x(boxHours[1]) - x(boxHours[0]))
  .attr("height", ys[2](boxTecu[1]) - ys[0](boxTecu[0]))
  .attr("fill", "none").attr("stroke", "#000").attr("stroke-width", 3.2)
  .attr("stroke-dasharray", "10,5");

// axis titles
svg.append("text").attr("transform", "translate(36,517) rotate(-90)")
  .attr("text-anchor", "middle").attr("font-size", 26).text("VTEC (TECU)");
svg.append("text").attr("x", 905).attr("y", 1050)
  .attr("text-anchor", "middle").attr("font-size", 26).text("Hours (LT)");

// legend
const legendPos = [
  { x0: 218, x1: 287, tx: 293 },
  { x0: 428, x1: 492, tx: 503 },
  { x0: 619, x1: 685, tx: 693 },
  { x0: 834, x1: 899, tx: 909 },
  { x0: 1031, x1: 1097, tx: 1106 },
  { x0: 1222, x1: 1289, tx: 1300 },
  { x0: 1435, x1: 1501, tx: 1513 }
];
const legendStyle = [
  { stroke: "#ff8a8a", w: 1 },
  { stroke: C.iri, w: 3.6 },
  { stroke: C.corr, w: 3.2 },
  { stroke: C.neq, w: 3.6 },
  { stroke: C.iriMLine, w: 1 },
  { stroke: C.corrMLine, w: 1 },
  { stroke: C.neqMLine, w: 1 }
];
const lg = svg.append("g");
const ly = 22;
legendNames.forEach((name, i) => {
  const p = legendPos[i], s = legendStyle[i];
  lg.append("line").attr("x1", p.x0).attr("x2", p.x1).attr("y1", ly).attr("y2", ly)
    .attr("stroke", s.stroke).attr("stroke-width", s.w);
  const mx = (p.x0 + p.x1) / 2;
  if (i === 0) lg.append("path").attr("d", square).attr("transform", `translate(${mx},${ly})`).attr("fill", C.gps);
  if (i === 4) lg.append("circle").attr("cx", mx).attr("cy", ly).attr("r", 3.6)
    .attr("fill", "none").attr("stroke", C.iriM).attr("stroke-width", 0.9);
  if (i === 5) lg.append("path").attr("d", star).attr("transform", `translate(${mx},${ly})`)
    .attr("fill", "#fff").attr("stroke", C.corrM).attr("stroke-width", 0.6);
  if (i === 6) lg.append("path").attr("d", tri).attr("transform", `translate(${mx},${ly}) rotate(-90)`)
    .attr("fill", C.neqM);
  lg.append("text").attr("x", p.tx).attr("y", ly + 10).attr("font-size", 26).text(name);
});
</script>
</body>
</html>
